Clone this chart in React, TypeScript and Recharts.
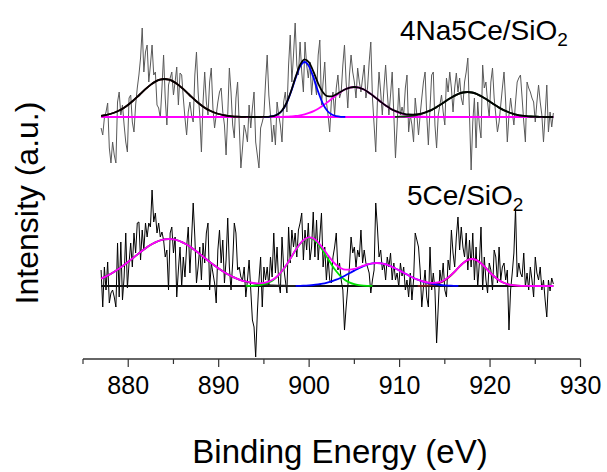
import { LineChart, Line, XAxis, YAxis } from "recharts";

// raw scans, 276 points each from 877 to 927 eV (counts above each spectrum's baseline)
const SCAN_START = 877;
const SCAN_END = 927;
const FIT_STEP = 0.5;

// vertical offsets of the two stacked spectra
const TOP_OFFSET = 242;
const BOTTOM_OFFSET = 73;

const energyTicks = [875, 880, 885, 890, 895, 900, 905, 910, 915, 920, 925, 930];

const topScan = [
  -11, -18, -1, 5, 14, -31, -46, -25, -38, -46,
  15, 25, 2, 12, -8, -25, -35, 19, 22, -5,
  -15, 12, 29, 42, 59, 89, 45, 65, 72, 35,
  52, 72, 42, 45, 12, 9, -1, 29, 62, 19,
  -8, 32, 39, 45, 22, 35, 50, 12, 44, 42,
  19, -1, -18, 5, 15, 2, -5, 42, 65, 25,
  2, -35, 15, 45, 15, 2, 35, 49, 9, -11,
  2, 15, 25, 29, 5, -8, -38, 2, 49, 25,
  -8, -21, 19, 35, -8, -51, -31, -8, -15, -25,
  12, -11, 9, 25, -25, -38, -51, -11, -5, 2,
  35, 62, 22, 2, -25, -8, -28, 15, 2, -8,
  -25, 15, 25, 5, 52, 82, 35, 62, 94, 52,
  42, 75, 45, 25, 75, 52, 39, 55, 22, 42,
  35, 22, 62, 77, 12, 35, 55, 15, 2, -15,
  15, 25, 2, 29, 42, 19, 25, 52, 72, 35,
  9, 42, 62, 45, 35, 19, 49, 35, 25, 39,
  52, 19, 29, 55, 75, 19, -8, -35, 15, 45,
  25, 2, 29, 52, 25, 2, 22, 45, 2, -41,
  -8, 29, 2, 10,
  2, 29, 42, -15, 2, -8, -25, 19, 2, -18,
  2, 19, 35, 45, 2, -28, 9, 42, 45, -8,
  -31, 2, 12, 22, 5, -8, 39, 25, 45, 29,
  5, 29, 44, 25, 39, 19, 12, 35, 45, 59,
  2, -53, -5, 19, -31, 15, -8, -21, 52, 29,
  35, 15, -1, 35, 49, 19, 2, -15, -5, 12,
  29, 45, 15, -25, 2, 19, 5, -8, 15, 35,
  39, 42, 19, -5, -25, 35, 29, 25, 19, 15,
  -5, 15, 32, 15, 2, -25, 2, 32, -15,
  5, -10, 4,
];

const bottomScan = [
  16, -21, 19, -4, 24, -17, -7, -4, -11, -21,
  43, -11, 44, -14, 9, 53, -2, 23, 43, 19,
  53, 33, 63, 64, 26, 56, 36, 63, 49, 63,
  59, 96, 64, 73, 53, 63, 49, 54, 46, 29,
  36, -4, 53, 59, 33, 49, -11, 16, 39, -1,
  29, 9, 39, 59, 13, 46, 83, 49, 3, 19,
  39, 6, 43, 23, 53, 63, -4, 23, 13, 3,
  -17, 36, 56, 23, 46, 3, 26, 68, 19, -4,
  23, 63, 53, 16, 19, 9, 6, 19, -11, 6,
  26, -4, -34, -41, -71, -27, 6, 29, -21, 19,
  6, 19, -1, 29, 9, 53, 13, 39, 3, -7,
  49, 19, 6, -7, 59, 23, 56, 39, 53, 29,
  56, 63, 73, 26, 56, 36, 63, 26, 39, 74,
  29, 66, 26, 49, 73, 19, 39, 6, 29, 6,
  3, 29, 39, 53, 16, 23, 6, -4, -44, -21,
  -1, 19, 49, 33, 39, 19, 36, 29, 56, 23,
  36, 23, 19, 13, -7, 6, 16, 83, 59, 29,
  36, 16, 23, 6, 29, 19, 33, 6, 23, 6,
  13, -1, 23, 10,
  19, -4, 6, -11, 13, -14, 6, 53, 46, 39,
  16, -21, -1, 16, -11, -21, 39, -4, 13, -4,
  -57, -21, 16, 3, 23, -4, -11, 26, 16, 56,
  33, 19, 49, 69, 36, 59, 39, 29, 53, 16,
  46, 19, 53, 6, 39, -1, 23, 59, -4, 29,
  6, -7, 23, 16, -4, 36, 29, 3, 39, 6,
  19, 23, 6, 16, -44, -4, 13, 33, 78, 9,
  23, 13, 9, 33, -1, 13, -4, 19, 6, -11,
  29, 13, 6, 19, -4, 6, -14, -31, 6,
  -5, 8, 2,
];

type Peak = { start: number; values: number[] };

// fitted components, every 0.5 eV from "start"
const topPeak1: Peak = {
  start: 877,
  values: [1.2, 1.9, 3.0, 4.5, 6.5, 9.1, 12.3, 16.0, 20.1, 24.4, 28.6, 32.4, 35.4, 37.3, 38, 37.3, 35.4,
    32.4, 28.6, 24.4, 20.1, 16.0, 12.3, 9.1, 6.5, 4.5, 3.0, 1.9, 1.2, 0.7, 0.4, 0.2, 0.1],
};
const topPeak2: Peak = {
  start: 895,
  values: [0.05, 0.2, 0.8, 2.4, 6.3, 13.7, 25.2, 38.9, 50.4, 55, 50.4, 38.9, 25.2, 13.7, 6.3, 2.4, 0.8, 0.2, 0.05],
};
const topPeak3: Peak = {
  start: 897,
  values: [0.2, 0.3, 0.6, 1.0, 1.7, 2.7, 4.1, 5.9, 8.3, 11.3, 14.6, 18.2, 21.8, 25.1, 27.7, 29.4, 30, 29.4,
    27.7, 25.1, 21.8, 18.2, 14.6, 11.3, 8.3, 5.9, 4.1, 2.7, 1.7, 1.0, 0.6, 0.3, 0.2],
};
const topPeak4: Peak = {
  start: 909.5,
  values: [0.15, 0.3, 0.5, 0.85, 1.4, 2.2, 3.4, 5.0, 6.9, 9.4, 12.2, 15.2, 18.2, 20.9, 23.1, 24.5, 25, 24.5,
    23.1, 20.9, 18.2, 15.2, 12.2, 9.4, 6.9, 5.0, 3.4, 2.2, 1.4, 0.85, 0.5, 0.3, 0.15],
};

const bottomPeakA: Peak = {
  start: 877,
  values: [7.4, 9.4, 11.7, 14.4, 17.4, 20.7, 24.2, 27.8, 31.4, 35.0, 38.3, 41.2, 43.6, 45.5, 46.6, 47, 46.6,
    45.5, 43.6, 41.2, 38.3, 35.0, 31.4, 27.8, 24.2, 20.7, 17.4, 14.4, 11.7, 9.4, 7.4, 5.7, 4.4, 3.3, 2.4,
    1.7, 1.25, 0.9, 0.6, 0.4, 0.3, 0.2, 0.1, 0.1],
};
const bottomPeakB: Peak = {
  start: 893,
  values: [0.1, 0.2, 0.4, 0.9, 1.8, 3.4, 5.8, 9.6, 14.7, 21.1, 28.4, 35.7, 42.1, 46.4, 48, 46.4, 42.1, 35.7,
    28.4, 21.1, 14.7, 9.6, 5.8, 3.4, 1.8, 0.9, 0.4, 0.2, 0.1],
};
const bottomPeakC: Peak = {
  start: 898.5,
  values: [0.1, 0.2, 0.4, 0.6, 1.0, 1.6, 2.3, 3.4, 4.7, 6.3, 8.3, 10.5, 13.0, 15.4, 17.8, 19.9, 21.6, 22.6, 23,
    22.6, 21.6, 19.9, 17.8, 15.4, 13.0, 10.5, 8.3, 6.3, 4.7, 3.4, 2.3, 1.6, 1.0, 0.6, 0.4, 0.2, 0.1],
};
const bottomPeakD: Peak = {
  start: 912,
  values: [0.05, 0.15, 0.35, 0.8, 1.7, 3.2, 5.7, 9.2, 13.5, 18.3, 22.7, 25.9, 27, 25.9, 22.7, 18.3, 13.5,
    9.2, 5.7, 3.2, 1.7, 0.8, 0.35, 0.15, 0.05],
};

type Row = { x: number; [key: string]: number };
const table = new Map<string, Row>();
function rowAt(x: number): Row {
  const key = x.toFixed(4);
  let r = table.get(key);
  if (!r) {
    r = { x: Number(key) };
    table.set(key, r);
  }
  return r;
}

const scanStep = (SCAN_END - SCAN_START) / (topScan.length - 1);
topScan.forEach((v, i) => {
  rowAt(SCAN_START + i * scanStep).topScan = TOP_OFFSET + v;
});
bottomScan.forEach((v, i) => {
  rowAt(SCAN_START + i * scanStep).bottomScan = BOTTOM_OFFSET + v;
});

function peakAt(p: Peak, x: number): number | null {
  const j = Math.round((x - p.start) / FIT_STEP);
  if (j < 0 || j >= p.values.length) return null;
  if (Math.abs(p.start + j * FIT_STEP - x) > 1e-6) return null;
  return p.values[j];
}

const topPeaks: [string, Peak][] = [["tp1", topPeak1], ["tp2", topPeak2], ["tp3", topPeak3], ["tp4", topPeak4]];
const bottomPeaks: [string, Peak][] = [["bpA", bottomPeakA], ["bpB", bottomPeakB], ["bpC", bottomPeakC], ["bpD", bottomPeakD]];

const fitCount = Math.round((SCAN_END - SCAN_START) / FIT_STEP) + 1;
for (let k = 0; k < fitCount; k++) {
  const x = SCAN_START + k * FIT_STEP;
  const r = rowAt(x);
  let topSum = 0;
  topPeaks.forEach(([key, p]) => {
    const v = peakAt(p, x);
    if (v !== null) {
      r[key] = TOP_OFFSET + v;
      topSum += v;
    }
  });
  let bottomSum = 0;
  bottomPeaks.forEach(([key, p]) => {
    const v = peakAt(p, x);
    if (v !== null) {
      r[key] = BOTTOM_OFFSET + v;
      bottomSum += v;
    }
  });
  r.topFit = TOP_OFFSET + topSum;
  r.bottomFit = BOTTOM_OFFSET + bottomSum;
  r.topBase = TOP_OFFSET;
  r.bottomBase = BOTTOM_OFFSET;
}

const data = [...table.values()].sort((a, b) => a.x - b.x);

const FONT = "Arial, 'Liberation Sans', sans-serif";

function EnergyTick(props: any) {
  const { x, y, payload } = props;
  const major = payload.value % 10 === 0;
  return (
    <g>
      <line x1={x} x2={x} y1={y} y2={y + (major ? 8 : 5)} stroke="#333" strokeWidth={1.2} />
      {major && (
        <text x={x} y={y + 35} textAnchor="middle" fontSize={25} fontFamily={FONT} fill="#000">
          {payload.value}
        </text>
      )}
    </g>
  );
}

const fitLine = { type: "monotone" as const, dot: false, isAnimationActive: false, connectNulls: true, strokeWidth: 1.8 };

export default function App() {
  return (
    <div style={{ position: "absolute", left: 0, top: 0, width: 607, height: 472, background: "#fff" }}>
      <LineChart width={607} height={472} data={data} margin={{ top: 0, right: 26.5, bottom: 0, left: 83 }}>
        <XAxis
          dataKey="x"
          type="number"
          domain={[875, 930]}
          ticks={energyTicks}
          interval={0}
          height={113}
          tickSize={0}
          tickMargin={0}
          tickLine={false}
          axisLine={{ stroke: "#333", strokeWidth: 1.3 }}
          tick={(p: any) => <EnergyTick {...p} />}
          allowDataOverflow
        />
        <YAxis hide width={0} type="number" domain={[0, 359]} allowDataOverflow />

        <Line dataKey="topScan" type="linear" stroke="#595959" strokeWidth={1} dot={false} isAnimationActive={false} connectNulls />
        <Line dataKey="bottomScan" type="linear" stroke="#000" strokeWidth={1} dot={false} isAnimationActive={false} connectNulls />

        <Line dataKey="topBase" {...fitLine} stroke="#ff00ff" />
        <Line dataKey="tp3" {...fitLine} stroke="#ff00ff" />
        <Line dataKey="tp2" {...fitLine} stroke="#0000ff" />
        <Line dataKey="tp4" {...fitLine} stroke="#0b3d0b" />
        <Line dataKey="tp1" {...fitLine} stroke="#5a0000" />
        <Line dataKey="topFit" {...fitLine} stroke="#000" />

        <Line dataKey="bottomBase" {...fitLine} stroke="#111" />
        <Line dataKey="bpA" {...fitLine} stroke="#222" />
        <Line dataKey="bpD" {...fitLine} stroke="#7a1a1a" />
        <Line dataKey="bpB" {...fitLine} stroke="#00e000" />
        <Line dataKey="bpC" {...fitLine} stroke="#0000ff" />
        <Line dataKey="bottomFit" {...fitLine} stroke="#ff00ff" />
      </LineChart>
      <svg width={607} height={472} style={{ position: "absolute", left: 0, top: 0, pointerEvents: "none" }}>
        <g fontFamily={FONT} fill="#000">
          <text transform="translate(38,203) rotate(-90)" textAnchor="middle" fontSize={32}>
            Intensity (a.u.)
          </text>
          <text x={340} y={463} textAnchor="middle" fontSize={33}>
            Binding Energy (eV)
          </text>
          <text x={400} y={40} fontSize={28}>
            4Na5Ce/SiO<tspan fontSize={19} dy={6}>2</tspan>
          </text>
          <text x={407} y={205} fontSize={28}>
            5Ce/SiO<tspan fontSize={19} dy={6}>2</tspan>
          </text>
        </g>
      </svg>
    </div>
  );
}
